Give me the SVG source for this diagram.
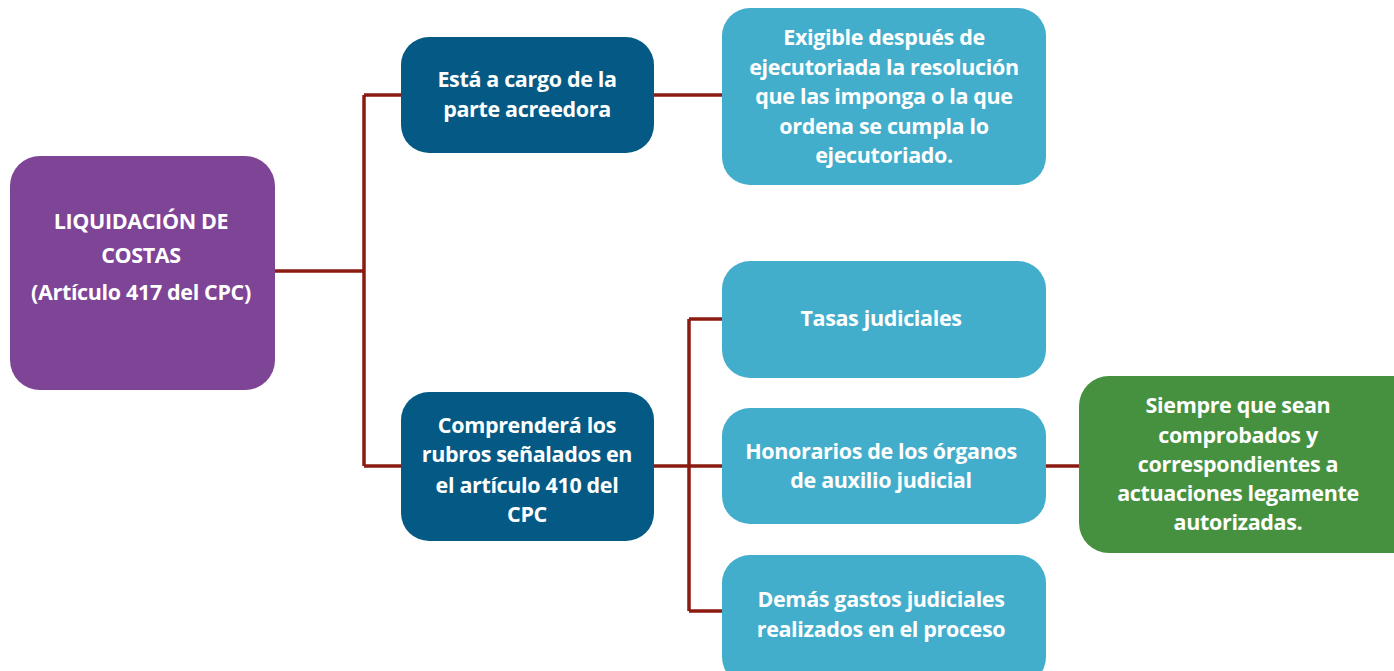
<svg xmlns="http://www.w3.org/2000/svg" width="1394" height="671" viewBox="0 0 1394 671">
<style>
.t{font-family:"Open Sans","Liberation Sans",sans-serif;font-weight:700;font-size:21.5px;fill:#ffffff;text-anchor:middle;letter-spacing:-0.35px}
.c{fill:none;stroke:#8B1A10;stroke-width:3.5}
</style>
<rect width="1394" height="671" fill="#ffffff"/>
<g id="connectors">
<path class="c" d="M275 271H364M364 95V466M364 95H401M364 466H401"/>
<path class="c" d="M654 95H722"/>
<path class="c" d="M654 466H722M689 319V611M689 319H722M689 611H722"/>
<path class="c" d="M1046 466H1079"/>
</g>
<g id="n0">
<rect x="10" y="156" width="265" height="234" rx="30" fill="#7E4496"/>
<text class="t"><tspan x="141" y="229">LIQUIDACIÓN DE</tspan><tspan x="141" y="263">COSTAS</tspan><tspan x="141" y="300">(Artículo 417 del CPC)</tspan></text>
</g>
<g id="n1">
<rect x="401" y="37" width="253" height="116" rx="28" fill="#045A84"/>
<text class="t"><tspan x="527" y="87">Está a cargo de la</tspan><tspan x="527" y="117">parte acreedora</tspan></text>
</g>
<g id="n2">
<rect x="722" y="8" width="324" height="177" rx="28" fill="#43AECB"/>
<text class="t"><tspan x="884" y="45">Exigible después de</tspan><tspan x="884" y="75">ejecutoriada la resolución</tspan><tspan x="884" y="104">que las imponga o la que</tspan><tspan x="884" y="134">ordena se cumpla lo</tspan><tspan x="884" y="163">ejecutoriado.</tspan></text>
</g>
<g id="n3">
<rect x="401" y="392" width="253" height="149" rx="28" fill="#045A84"/>
<text class="t"><tspan x="527" y="433">Comprenderá los</tspan><tspan x="527" y="462">rubros señalados en</tspan><tspan x="527" y="493">el artículo 410 del</tspan><tspan x="527" y="522">CPC</tspan></text>
</g>
<g id="n4">
<rect x="722" y="261" width="324" height="117" rx="28" fill="#43AECB"/>
<text class="t"><tspan x="881" y="326">Tasas judiciales</tspan></text>
</g>
<g id="n5">
<rect x="722" y="408" width="324" height="116" rx="28" fill="#43AECB"/>
<text class="t"><tspan x="881" y="459">Honorarios de los órganos</tspan><tspan x="881" y="488">de auxilio judicial</tspan></text>
</g>
<g id="n6">
<rect x="722" y="555" width="324" height="130" rx="28" fill="#43AECB"/>
<text class="t"><tspan x="881" y="607">Demás gastos judiciales</tspan><tspan x="881" y="637">realizados en el proceso</tspan></text>
</g>
<g id="n7">
<rect x="1079" y="376" width="345" height="177" rx="30" fill="#46913F"/>
<text class="t"><tspan x="1238" y="413">Siempre que sean</tspan><tspan x="1238" y="443">comprobados y</tspan><tspan x="1238" y="472">correspondientes a</tspan><tspan x="1238" y="501">actuaciones legamente</tspan><tspan x="1238" y="530">autorizadas.</tspan></text>
</g>
</svg>
